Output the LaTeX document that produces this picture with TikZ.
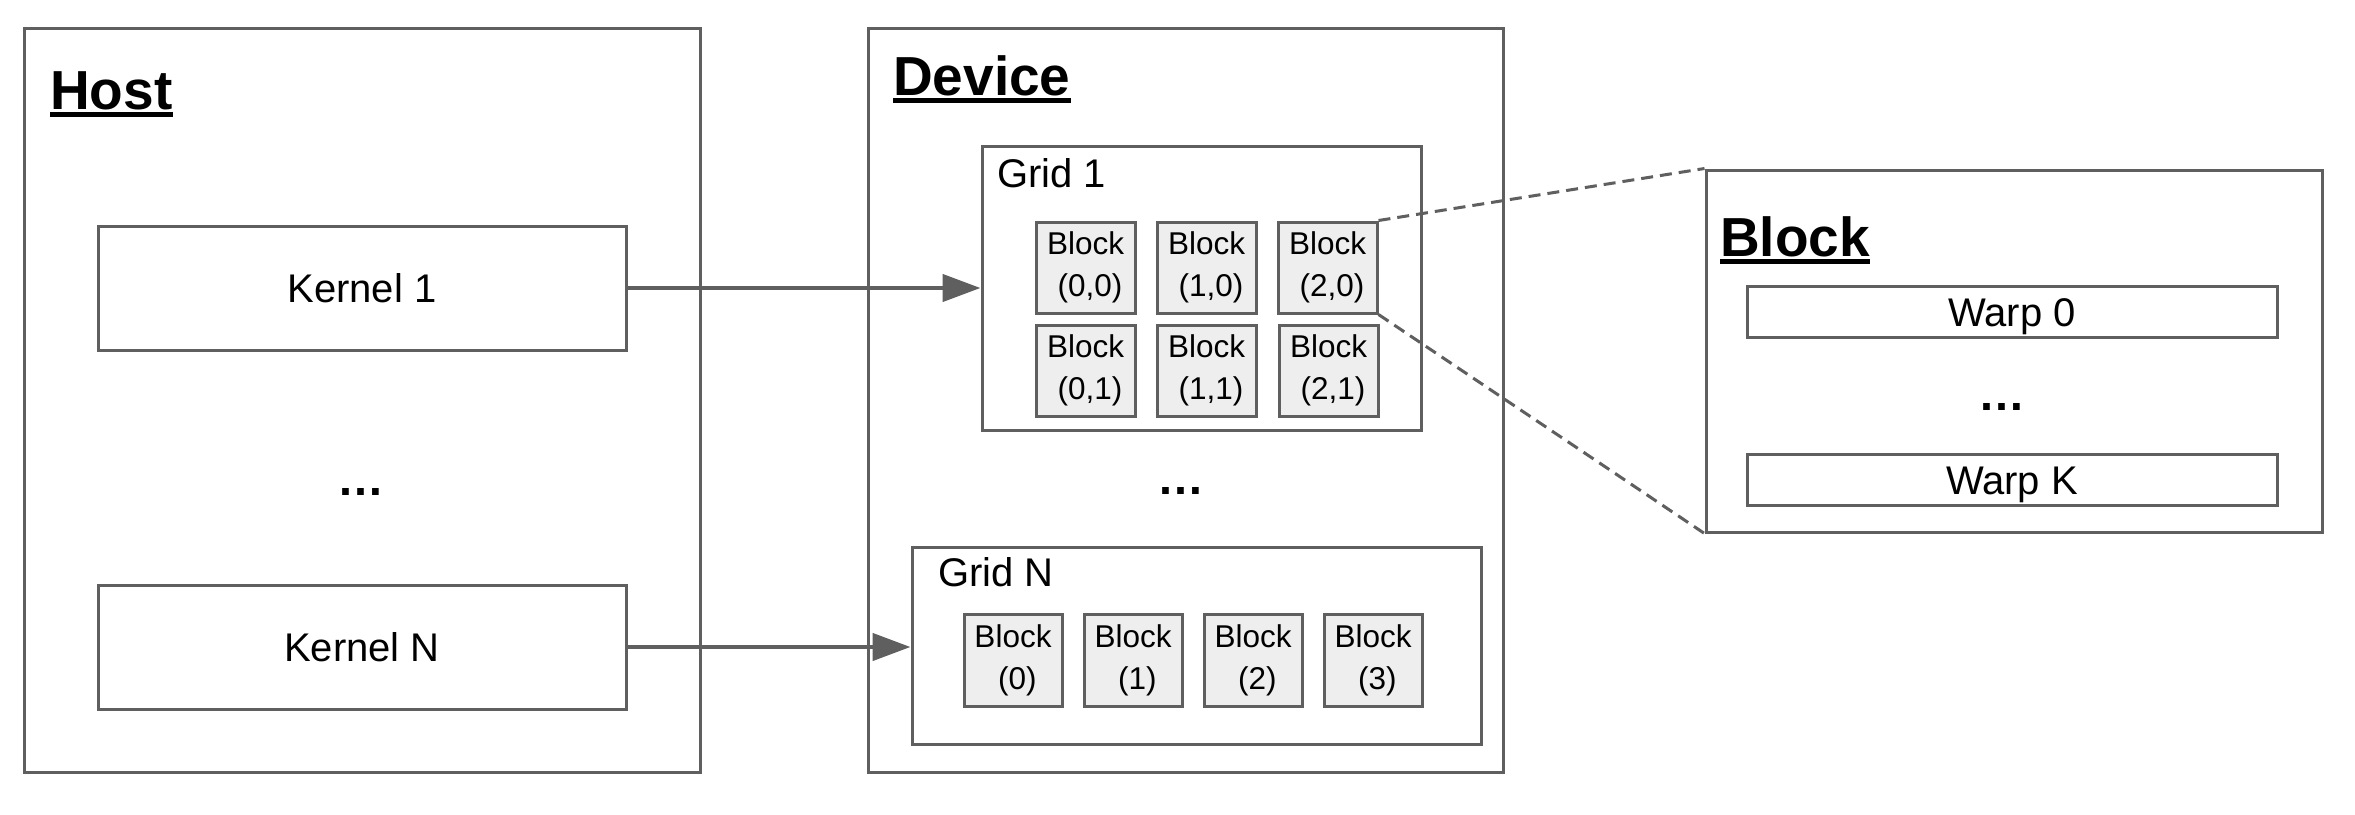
\documentclass[tikz,border=0pt]{standalone}
\usepackage{fontspec}
\setmainfont{Liberation Sans}
\usetikzlibrary{arrows.meta}
\definecolor{lc}{HTML}{5F5F5F}
\definecolor{cellfill}{HTML}{EEEEEE}
\begin{document}
\begin{tikzpicture}[x=1pt,y=-1pt,
  box/.style={draw=lc,line width=3pt,rectangle,inner sep=0pt,fill=white},
  cell/.style={draw=lc,line width=3pt,rectangle,inner sep=0pt,fill=cellfill,
    minimum width=99pt,minimum height=91pt,align=center,font=\fontsize{31.5}{42}\selectfont},
  cellN/.style={cell,minimum width=98pt,minimum height=92pt},
  big/.style={font=\fontsize{40}{48}\selectfont,text height=29pt,text depth=0pt},
  ttl/.style={inner sep=0pt,anchor=base west,font=\bfseries\fontsize{55}{66}\selectfont},
  lbl/.style={inner sep=0pt,anchor=base west,font=\fontsize{40}{48}\selectfont},
  dots/.style={inner sep=0pt,anchor=base,font=\bfseries\fontsize{47}{56}\selectfont},
  arr/.style={draw=lc,line width=4.5pt,-{Triangle[length=38pt,width=27pt]}},
  zoomline/.style={draw=lc,line width=3pt,dash pattern=on 12pt off 7pt},
  uline/.style={line width=5pt}
]
\useasboundingbox[fill=white] (0,0) rectangle (2355,814);

% Host
\node[box,minimum width=676pt,minimum height=744pt] (host) at (362,400) {};
\node[ttl] (hostttl) at (50,109) {Host};
\draw[uline] ([yshift=-5pt]hostttl.base west) -- ([yshift=-5pt]hostttl.base east);
\node[box,big,minimum width=528pt,minimum height=124pt] (kern1) at (362,288) {Kernel 1};
\node[box,big,minimum width=528pt,minimum height=124pt] (kernN) at (362,647) {Kernel N};
\node[dots] (hdots) at (361,495) {…};

% Device
\node[box,minimum width=635pt,minimum height=744pt] (device) at (1185.5,400) {};
\node[ttl] (devttl) at (893,95) {Device};
\draw[uline] ([yshift=-5pt]devttl.base west) -- ([yshift=-5pt]devttl.base east);

\node[box,minimum width=439pt,minimum height=284pt] (grid1) at (1201.5,288) {};
\node[lbl] (g1lbl) at (997,187) {Grid 1};
\node[cell] (b00) at (1085.5,267.5) {Block\\\hspace*{0.28em}(0,0)};
\node[cell] (b10) at (1206.5,267.5) {Block\\\hspace*{0.28em}(1,0)};
\node[cell] (b20) at (1327.5,267.5) {Block\\\hspace*{0.28em}(2,0)};
\node[cell] (b01) at (1085.5,370.5) {Block\\\hspace*{0.28em}(0,1)};
\node[cell] (b11) at (1206.5,370.5) {Block\\\hspace*{0.28em}(1,1)};
\node[cell] (b21) at (1328.5,370.5) {Block\\\hspace*{0.28em}(2,1)};

\node[dots] (ddots) at (1181,494) {…};

\node[box,minimum width=569pt,minimum height=197pt] (gridN) at (1196.5,645.5) {};
\node[lbl] (gNlbl) at (938,586) {Grid N};
\node[cellN] (c0) at (1013,660) {Block\\\hspace*{0.28em}(0)};
\node[cellN] (c1) at (1133,660) {Block\\\hspace*{0.28em}(1)};
\node[cellN] (c2) at (1253,660) {Block\\\hspace*{0.28em}(2)};
\node[cellN] (c3) at (1373,660) {Block\\\hspace*{0.28em}(3)};

% Block detail
\node[box,minimum width=616pt,minimum height=362pt] (blockbox) at (2014,351) {};
\node[ttl] (blkttl) at (1720,256) {Block};
\draw[uline] ([yshift=-5pt]blkttl.base west) -- ([yshift=-5pt]blkttl.base east);
\node[box,big,minimum width=530pt,minimum height=51pt] (warp0) at (2012,311.5) {Warp 0};
\node[box,big,minimum width=530pt,minimum height=51pt] (warpK) at (2012,479.5) {Warp K};
\node[dots] (bdots) at (2002,410) {…};

% connectors
\draw[arr] (kern1.east) -- (grid1.west);
\draw[arr] (kernN.east) -- (kernN.east -| gridN.west);
\draw[zoomline] (b20.north east) -- (blockbox.north west);
\draw[zoomline] (b20.south east) -- (blockbox.south west);
\end{tikzpicture}
\end{document}
